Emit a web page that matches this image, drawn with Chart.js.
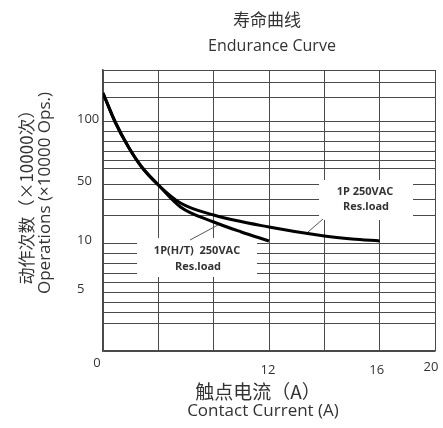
<!DOCTYPE html>
<html>
<head>
<meta charset="utf-8">
<script src="https://cdn.jsdelivr.net/npm/chart.js@4/dist/chart.umd.min.js"></script>
<style>
  html, body { margin: 0; padding: 0; background: #fff; }
  #wrap { width: 443px; height: 428px; }
</style>
</head>
<body>
<div id="wrap"><canvas id="endurance-chart"></canvas></div>
<script>
// x is the grid column (0..6), y is the height on the printed grid (0..281)
const xGridLines = [0, 1, 2, 3, 4, 5, 6];
const xTickPos = [0, 3, 5, 6];
const xTickText = ['0', '12', '16', '20'];

const yGridLines = [0, 28, 39, 49, 59, 69, 78, 88, 98, 108, 136, 152, 167, 183, 191, 200, 210, 220, 229, 254, 269, 281];
const yTickPos = [229, 167, 108, 59];
const yTickText = ['100', '50', '10', '5'];

// 1P(H/T) 250VAC Res.load
const htX = [0, 0.22, 0.46, 0.70, 1.0, 1.4, 2.0, 2.5, 3.0];
const htY = [258, 229, 204, 184, 166, 144, 129, 119, 110];

// 1P 250VAC Res.load
const pX = [0, 0.22, 0.46, 0.70, 1.0, 1.4, 2.0, 3.0, 4.0, 4.5, 5.0];
const pY = [258, 229, 204, 184, 166, 148, 136, 124, 115, 112, 110];

const gridColor = '#4a4a4a';
const cjk = '"Noto Sans CJK SC"';
const latin = '"Open Sans", sans-serif';

function points(xs, ys) {
    return xs.map((x, i) => ({ x: x, y: ys[i] }));
}

// white boxes behind the two curve labels, they cut the grid
const labelBoxes = {
    id: 'labelBoxes',
    beforeDatasetsDraw(chart) {
        const ctx = chart.ctx;
        ctx.save();
        ctx.fillStyle = '#fff';
        ctx.fillRect(137, 238, 120, 39);
        ctx.fillRect(319, 180, 94, 40);
        ctx.restore();
    }
};

const texts = {
    id: 'texts',
    afterDraw(chart) {
        const ctx = chart.ctx;
        const xs = chart.scales.x;
        const ys = chart.scales.y;
        ctx.save();
        ctx.fillStyle = '#333';
        ctx.textBaseline = 'middle';

        // titles
        ctx.textAlign = 'center';
        ctx.font = '17px ' + cjk;
        ctx.fillText('寿命曲线', 267, 20);
        ctx.font = '16px ' + latin;
        ctx.fillText('Endurance Curve', 272, 46);

        // y tick labels
        ctx.textAlign = 'left';
        ctx.font = '13px ' + latin;
        yTickPos.forEach((v, i) => {
            ctx.fillText(yTickText[i], 77, ys.getPixelForValue(v) - 3);
        });

        // x tick labels
        ctx.textAlign = 'center';
        const dx = [-6, -1, -3, -4];
        const dy = [12, 19, 19, 16];
        xTickPos.forEach((v, i) => {
            ctx.fillText(xTickText[i], xs.getPixelForValue(v) + dx[i], ys.bottom + dy[i]);
        });

        // x axis title
        ctx.font = '19px ' + cjk;
        ctx.fillText('触点电流（A）', 258, 392);
        ctx.font = '17px ' + latin;
        ctx.fillText('Contact Current (A)', 263, 411);

        // y axis title
        ctx.translate(27, 193);
        ctx.rotate(-Math.PI / 2);
        ctx.font = '17px ' + cjk;
        ctx.fillText('动作次数（×10000次）', 0, 0);
        ctx.font = '17px ' + latin;
        ctx.fillText('Operations (×10000 Ops.)', 0, 18);
        ctx.setTransform(1, 0, 0, 1, 0, 0);
        ctx.scale(chart.currentDevicePixelRatio, chart.currentDevicePixelRatio);

        // curve labels
        ctx.font = 'bold 11px ' + latin;
        ctx.fillText('1P 250VAC', 365, 192);
        ctx.fillText('Res.load', 366, 207);
        ctx.fillText('1P(H/T)  250VAC', 197, 251);
        ctx.fillText('Res.load', 198, 267);

        // leader lines
        ctx.strokeStyle = '#555';
        ctx.lineWidth = 1;
        ctx.beginPath();
        ctx.moveTo(190, 240);
        ctx.lineTo(218, 225);
        ctx.moveTo(308, 232);
        ctx.lineTo(323, 219);
        ctx.stroke();
        ctx.restore();
    }
};

new Chart(document.getElementById('endurance-chart'), {
    type: 'scatter',
    data: {
        datasets: [
            {
                label: '1P(H/T) 250VAC Res.load',
                data: points(htX, htY),
                showLine: true,
                borderColor: '#000',
                borderWidth: 3,
                pointRadius: 0,
                cubicInterpolationMode: 'monotone'
            },
            {
                label: '1P 250VAC Res.load',
                data: points(pX, pY),
                showLine: true,
                borderColor: '#000',
                borderWidth: 3,
                pointRadius: 0,
                cubicInterpolationMode: 'monotone'
            }
        ]
    },
    plugins: [labelBoxes, texts],
    options: {
        responsive: true,
        maintainAspectRatio: false,
        animation: false,
        layout: {
            padding: { left: 103, right: 8, top: 70, bottom: 77 }
        },
        plugins: {
            legend: { display: false },
            tooltip: { enabled: false }
        },
        scales: {
            x: {
                type: 'linear',
                min: 0,
                max: 6,
                afterBuildTicks: axis => {
                    axis.ticks = xGridLines.map(v => ({ value: v }));
                },
                ticks: { display: false },
                grid: { color: gridColor, lineWidth: 1, drawTicks: false },
                border: { color: gridColor, width: 1.5 }
            },
            y: {
                type: 'linear',
                min: 0,
                max: 281,
                afterBuildTicks: axis => {
                    axis.ticks = yGridLines.map(v => ({ value: v }));
                },
                ticks: { display: false },
                grid: { color: gridColor, lineWidth: 1, drawTicks: false },
                border: { color: gridColor, width: 1.5 }
            }
        }
    }
});
</script>
</body>
</html>
